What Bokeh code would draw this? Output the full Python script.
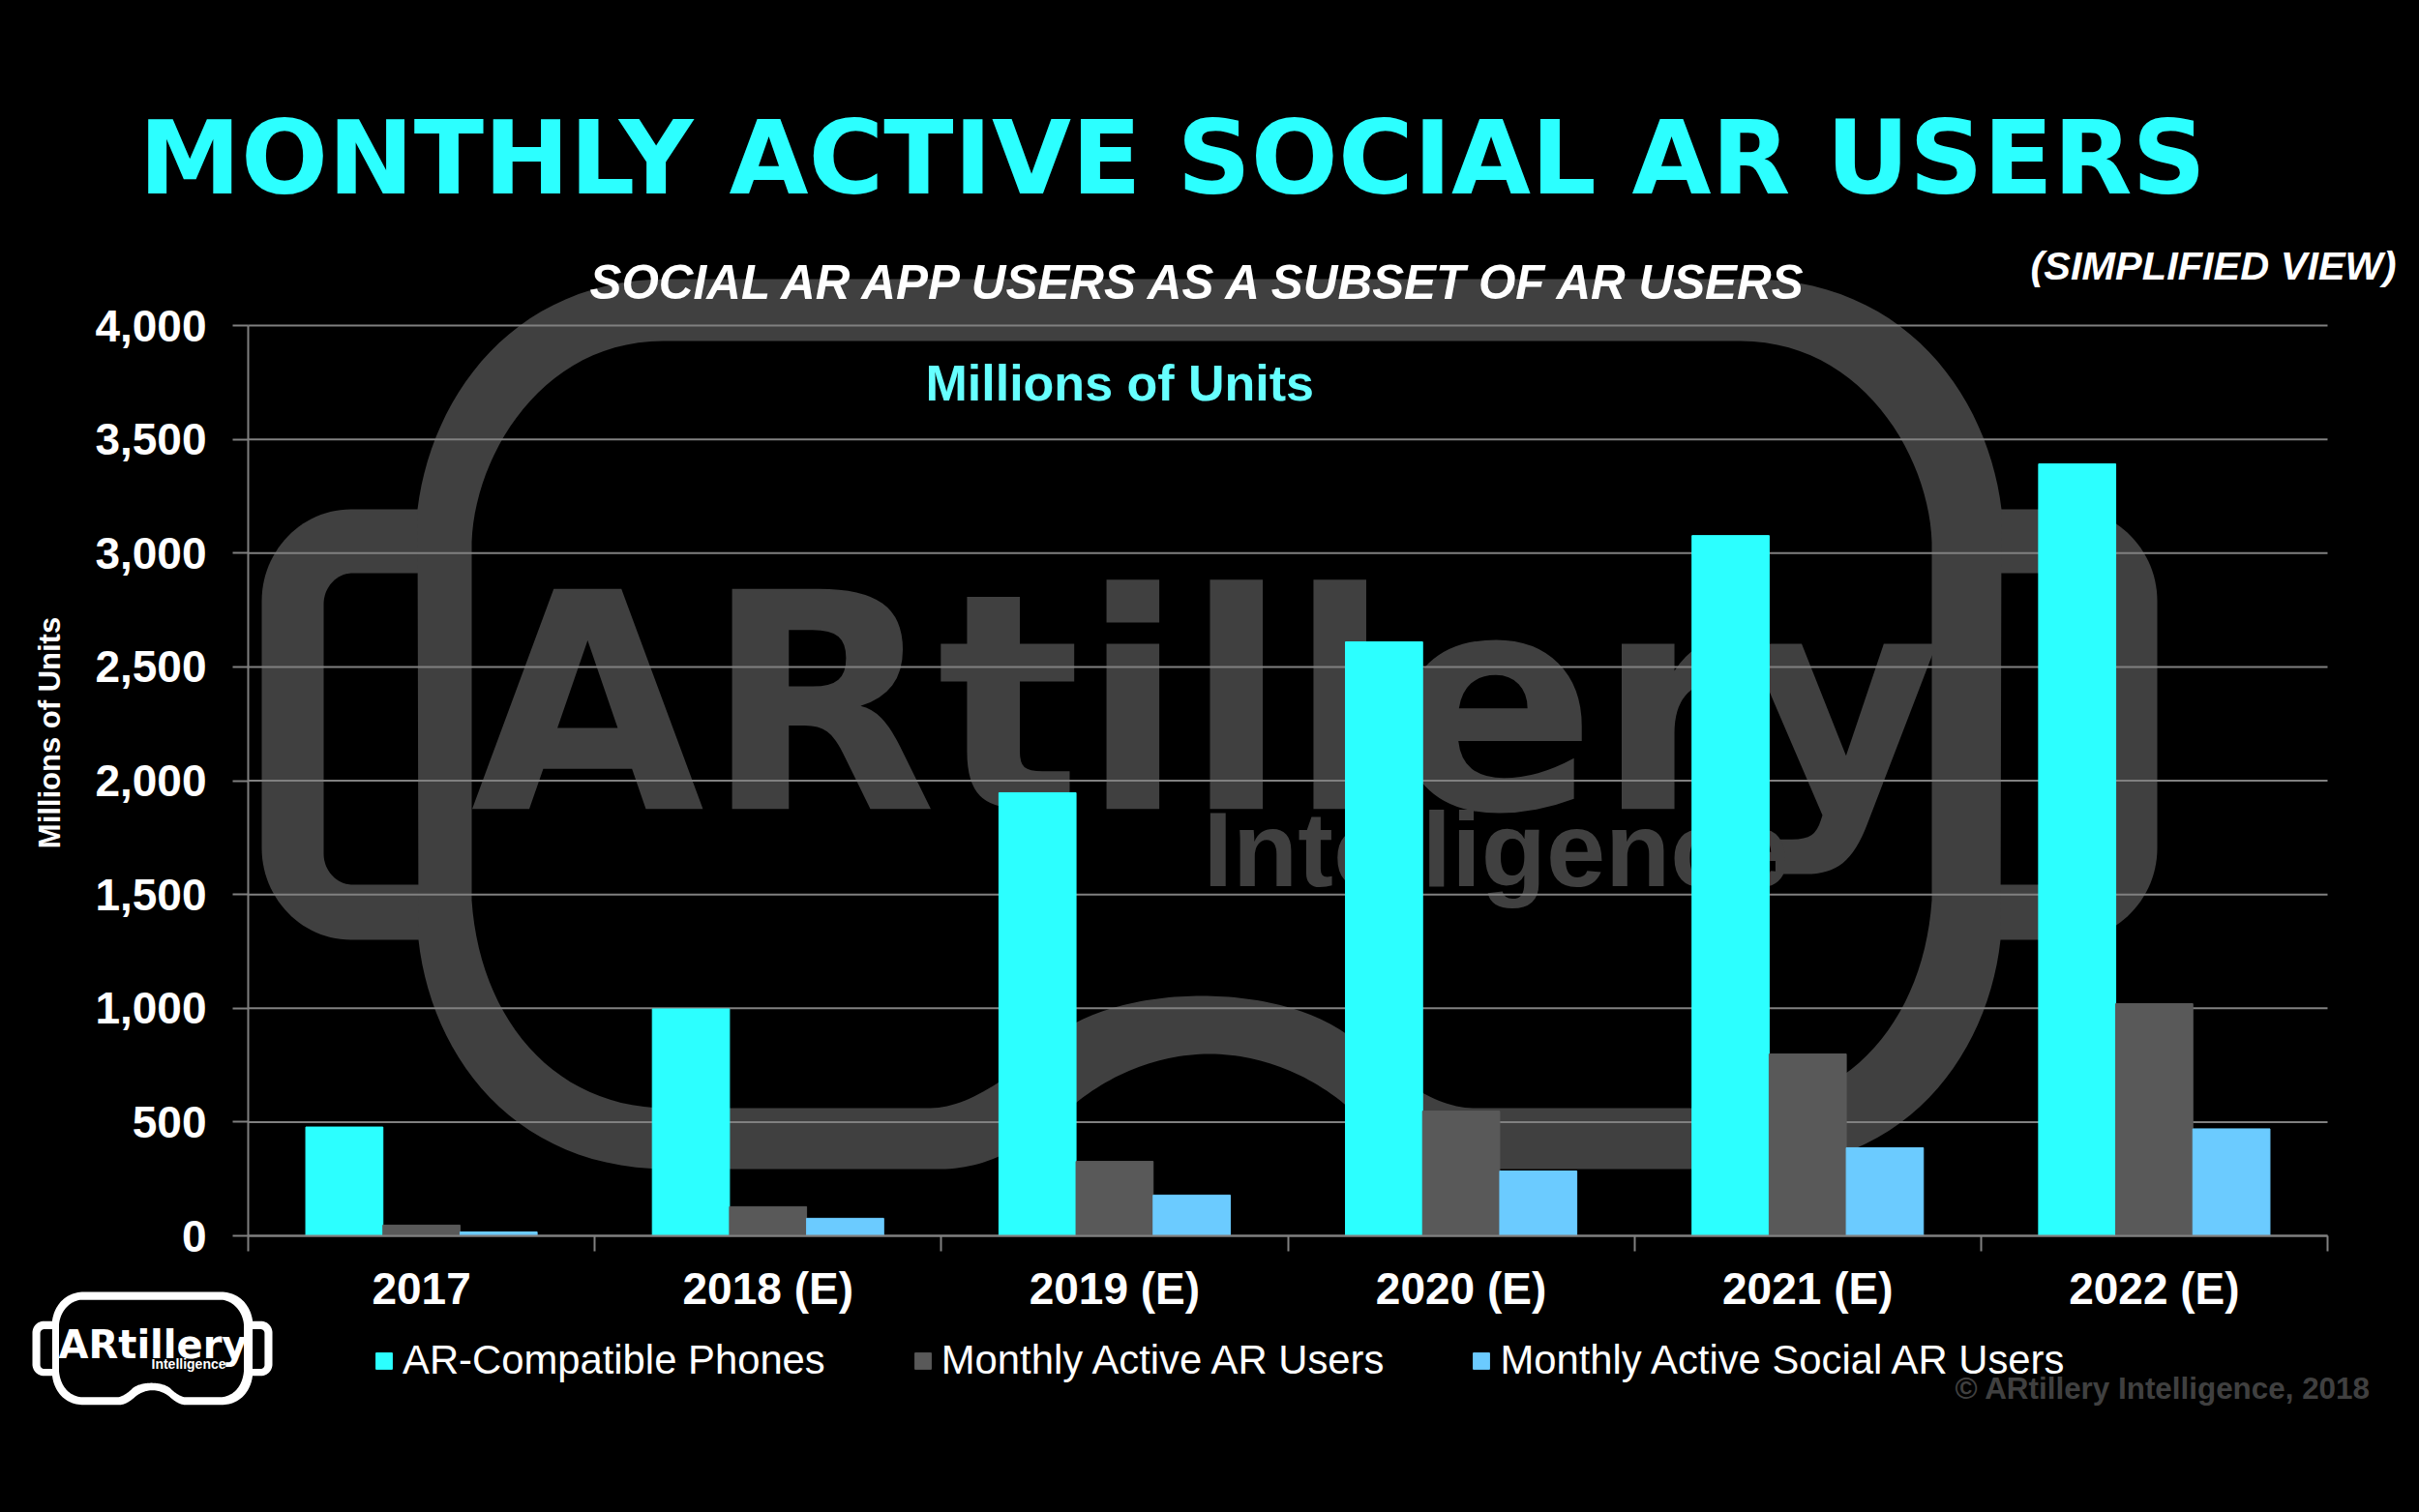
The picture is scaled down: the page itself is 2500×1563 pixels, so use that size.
import math
from bokeh.embed import file_html
from bokeh.resources import INLINE
from bokeh.plotting import figure
from bokeh.models import (ColumnDataSource, FixedTicker, Label, Legend, LegendItem,
                          LinearAxis, NumeralTickFormatter, Range1d)

categories = ["2017", "2018 (E)", "2019 (E)", "2020 (E)", "2021 (E)", "2022 (E)"]
phones = [478, 997, 1947, 2610, 3077, 3392]
ar_users = [47, 128, 327, 548, 799, 1020]
social_users = [17, 77, 179, 285, 387, 470]
y_ticks = [0, 500, 1000, 1500, 2000, 2500, 3000, 3500, 4000]
series_names = ["AR-Compatible Phones", "Monthly Active AR Users", "Monthly Active Social AR Users"]

CYAN, GREY, BLUE = "#2CFFFF", "#595959", "#6BCBFF"
LINE, MARK = "#808080", "#404040"
FONT = "Liberation Sans"
HEAVY = "DejaVu Sans"
W, H = 2500, 1563
L, R, T, B = 256, 2405, 336, 1277   # chart edges in page pixels
n = len(categories)
upp_x = n / (R - L)
upp_y = y_ticks[-1] / (B - T)

p = figure(width=W, height=H, output_backend="svg", toolbar_location=None,
           x_range=Range1d(-L * upp_x, (W - L) * upp_x),
           y_range=Range1d(-(H - B) * upp_y, B * upp_y),
           x_axis_type=None, y_axis_type=None,
           background_fill_color="#000000", border_fill_color="#000000",
           min_border=0, outline_line_color=None)
p.extra_x_ranges["px"] = Range1d(0, W)
p.extra_y_ranges["px"] = Range1d(H, 0)


def bez(a, b, c, d, m=28):
    out = []
    for i in range(m + 1):
        t = i / m
        u = 1 - t
        out.append((u**3*a[0] + 3*u*u*t*b[0] + 3*u*t*t*c[0] + t**3*d[0],
                    u**3*a[1] + 3*u*u*t*b[1] + 3*u*t*t*c[1] + t**3*d[1]))
    return out


def closed(half, cx):
    return half + [(2 * cx - x, y) for x, y in reversed(half)]


def rrect(x0, y0, x1, y1, rx, ry):
    k = 0.55
    pts = bez((x0 + rx, y0), (x0 + rx - k*rx, y0), (x0, y0 + ry - k*ry), (x0, y0 + ry))
    pts += bez((x0, y1 - ry), (x0, y1 - ry + k*ry), (x0 + rx - k*rx, y1), (x0 + rx, y1))
    pts += bez((x1 - rx, y1), (x1 - rx + k*rx, y1), (x1, y1 - ry + k*ry), (x1, y1 - ry))
    pts += bez((x1, y0 + ry), (x1, y0 + ry - k*ry), (x1 - rx + k*rx, y0), (x1 - rx, y0))
    return pts


ear_out = rrect(270, 526, 2229, 971, 92, 95)
ear_in = rrect(334, 592, 2165, 914, 30, 32)
main_out = closed(
    [(1249.5, 288), (690, 288)] + bez((690, 288), (530, 288), (445, 410), (431, 526))
    + bez((432, 971), (445, 1090), (530, 1208), (690, 1208))
    + bez((971, 1208), (1020, 1208), (1060, 1185), (1111, 1140))
    + bez((1111, 1140), (1150, 1108), (1200, 1089), (1249.5, 1089)), 1249.5)
main_in = closed(
    [(1241.5, 352), (685, 352)] + bez((685, 352), (560, 352), (490, 470), (487, 560))
    + bez((487, 930), (495, 1050), (570, 1145), (690, 1145))
    + bez((961, 1145), (1000, 1145), (1050, 1110), (1090, 1070))
    + bez((1090, 1070), (1130, 1040), (1190, 1029), (1241.5, 1029)), 1241.5)


def poly(pts, color, fx=lambda v: v, fy=lambda v: v):
    p.patch([fx(x) for x, _ in pts], [fy(y) for _, y in pts], x_range_name="px", y_range_name="px",
            fill_color=color, line_alpha=0, level="image")


def text(s, x, y, size, color="#FFFFFF", style="bold", align="left", level="annotation", angle=0,
         font=FONT, base=0.36):
    # base: Label baseline correction, share of the font size
    if angle:
        x -= base * size
    else:
        y -= base * size
    p.add_layout(Label(x=x, y=y, text=s, x_range_name="px", y_range_name="px",
                       text_font=font, text_font_size=f"{size}px", text_font_style=style,
                       text_color=color, text_align=align, text_baseline="alphabetic",
                       angle=angle, level=level))


# large background watermark
for pts, col in ((ear_out, MARK), (ear_in, "#000000"), (main_out, MARK), (main_in, "#000000")):
    poly(pts, col)
text("ARtillery", 486, 840, 312, MARK, level="image", font=HEAVY)
text("Intelligence", 1243, 917, 110, MARK, level="image")

# small logo
lx = lambda v: 33 + (v - 270) * 0.1266
ly = lambda v: 1335 + (v - 288) * 0.127
for pts, col in ((ear_out, "#FFFFFF"), (ear_in, "#000000"), (main_out, "#FFFFFF"), (main_in, "#000000")):
    poly(pts, col, lx, ly)
text("ARtillery", 60, 1404, 40, font=HEAVY)
text("Intelligence", 156, 1415, 14)

# gridlines
p.segment(x0=[0] * len(y_ticks), x1=[n] * len(y_ticks), y0=y_ticks, y1=y_ticks,
          line_color=LINE, line_width=2, level="underlay")

# bars
idx = [i + 0.5 for i in range(n)]
bw = 0.2225
src = ColumnDataSource(dict(
    x1=[v - bw for v in idx], x2=idx, x3=[v + bw for v in idx],
    phones=phones, ar_users=ar_users, social_users=social_users))
r1 = p.vbar(x="x1", top="phones", width=bw, source=src, color=CYAN)
r2 = p.vbar(x="x2", top="ar_users", width=bw, source=src, color=GREY)
r3 = p.vbar(x="x3", top="social_users", width=bw, source=src, color=BLUE)

# axes
xaxis = LinearAxis(ticker=FixedTicker(ticks=idx, minor_ticks=list(range(n + 1))),
                   fixed_location=0, bounds=(0, n),
                   major_label_overrides={v: c for v, c in zip(idx, categories)},
                   major_tick_line_color=None, major_tick_in=0, major_tick_out=0,
                   minor_tick_line_color=LINE, minor_tick_line_width=2, minor_tick_in=0, minor_tick_out=16,
                   axis_line_color=LINE, axis_line_width=2,
                   major_label_text_font=FONT, major_label_text_font_size="46px",
                   major_label_text_font_style="bold", major_label_text_color="#FFFFFF",
                   major_label_standoff=12)
p.add_layout(xaxis, "below")
yaxis = LinearAxis(ticker=FixedTicker(ticks=y_ticks), formatter=NumeralTickFormatter(format="0,0"),
                   fixed_location=0, bounds=(0, y_ticks[-1]),
                   major_tick_line_color=LINE, major_tick_line_width=2, major_tick_in=0, major_tick_out=16,
                   minor_tick_line_color=None, axis_line_color=LINE, axis_line_width=2,
                   major_label_text_font=FONT, major_label_text_font_size="46px",
                   major_label_text_font_style="bold", major_label_text_color="#FFFFFF",
                   major_label_standoff=27)
p.add_layout(yaxis, "left")

# legend
legend = Legend(items=[LegendItem(label=s, renderers=[r]) for s, r in zip(series_names, (r1, r2, r3))],
                orientation="horizontal", location=(386, H - 1430),
                background_fill_alpha=0, border_line_alpha=0, padding=0, margin=0,
                glyph_width=21, glyph_height=21, label_standoff=9, spacing=90,
                label_text_font=FONT, label_text_font_size="41.8px", label_text_color="#FFFFFF",
                label_height=21)
p.add_layout(legend, "center")

# texts
text("MONTHLY ACTIVE SOCIAL AR USERS", 143, 201, 106, CYAN, font=HEAVY)
text("SOCIAL AR APP USERS AS A SUBSET OF AR USERS", 609, 309, 49.4, style="bold italic")
text("(SIMPLIFIED VIEW)", 2098, 289, 41.5, style="bold italic")
text("Millions of Units", 956, 414, 52, "#66FFFF")
text("Millions of Units", 62, 757, 31, align="center", angle=math.pi / 2)
text("\u00a9 ARtillery Intelligence, 2018", 2020, 1446, 31.4, MARK)

html = file_html(p, INLINE)
html = html.replace("<head>", "<head><style>html,body{background:#000;}</style>", 1)
open("out.html", "w").write(html)
